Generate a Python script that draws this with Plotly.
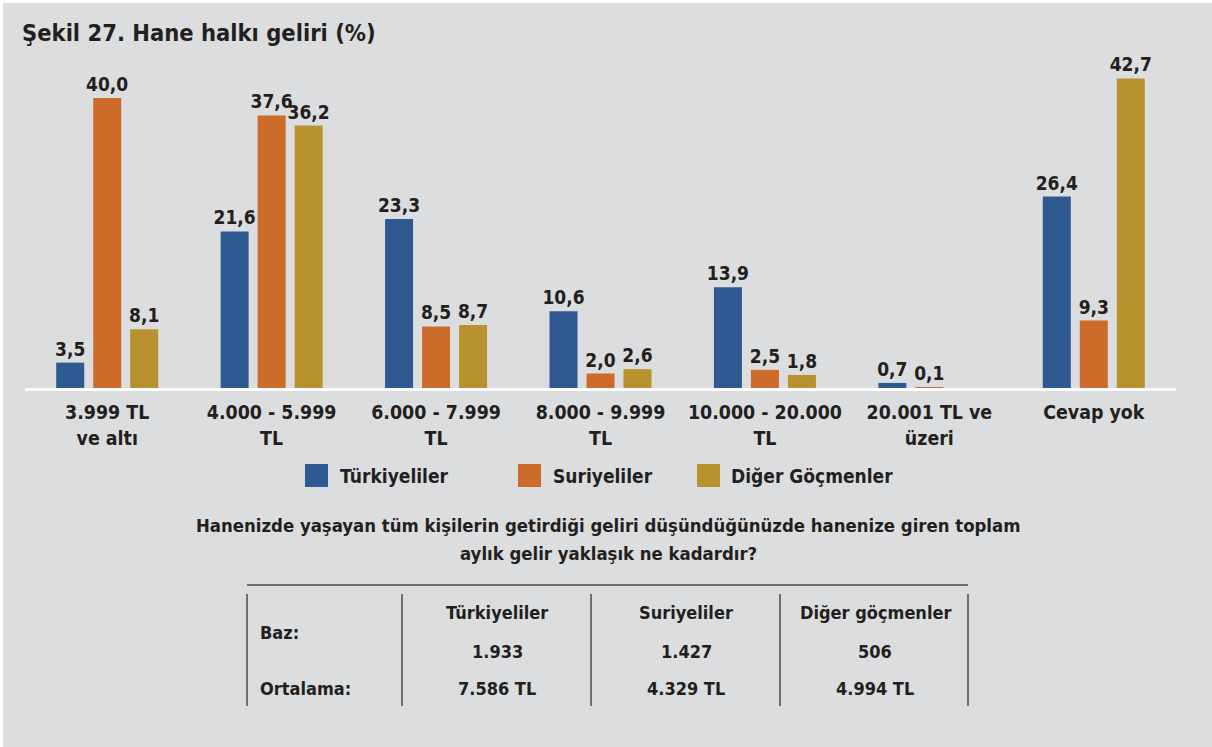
import plotly.graph_objects as go

# ---- data ----
categories = ["3.999 TL<br>ve altı", "4.000 - 5.999<br>TL", "6.000 - 7.999<br>TL",
              "8.000 - 9.999<br>TL", "10.000 - 20.000<br>TL", "20.001 TL ve<br>üzeri",
              "Cevap yok"]
turkiyeliler = [3.5, 21.6, 23.3, 10.6, 13.9, 0.7, 26.4]
suriyeliler = [40.0, 37.6, 8.5, 2.0, 2.5, 0.1, 9.3]
diger = [8.1, 36.2, 8.7, 2.6, 1.8, None, 42.7]
series_names = ["Türkiyeliler", "Suriyeliler", "Diğer Göçmenler"]
series_values = [turkiyeliler, suriyeliler, diger]

title_text = "Şekil 27. Hane halkı geliri (%)"
question_lines = ["Hanenizde yaşayan tüm kişilerin getirdiği geliri düşündüğünüzde hanenize giren toplam",
                  "aylık gelir yaklaşık ne kadardır?"]
table_header = ["Türkiyeliler", "Suriyeliler", "Diğer göçmenler"]
table_row_labels = ["Baz:", "Ortalama:"]
baz = ["1.933", "1.427", "506"]
ortalama = ["7.586 TL", "4.329 TL", "4.994 TL"]

# ---- style ----
colors = ["#2e5a91", "#cd6b2b", "#b8922f"]
BG = "#dcdddf"
TXT = "#231f20"
FONT = "DejaVu Sans Condensed, sans-serif"

W, H = 1212, 747
L, R, T, B = 25, 36, 60, 359
PW, PH = W - L - R, H - T - B
BASE_Y = H - B


def px(x):
    return (x - L) / PW


def py(y):
    return (BASE_Y - y) / PH


fig = go.Figure()
for name, vals, col in zip(series_names, series_values, colors):
    fig.add_trace(go.Bar(
        x=categories, y=vals, name=name,
        marker=dict(color=col, line=dict(width=0)),
        texttemplate="%{y:.1f}", textposition="outside",
        textfont=dict(size=19, color=TXT, family=FONT, weight="bold"),
        constraintext="none", cliponaxis=False, showlegend=False,
    ))

shapes = []
annotations = []

# white edge strips (page border)
shapes.append(dict(type="rect", xref="paper", yref="paper", x0=px(0), x1=px(3), y0=py(H), y1=py(0),
                   fillcolor="white", line=dict(width=0), layer="below"))
shapes.append(dict(type="rect", xref="paper", yref="paper", x0=px(0), x1=px(W), y0=py(3), y1=py(0),
                   fillcolor="white", line=dict(width=0), layer="below"))

# custom legend
leg_sq_x = [305, 518, 697]
leg_tx_x = [338, 551, 729]
for sx, tx, name, col in zip(leg_sq_x, leg_tx_x, series_names, colors):
    shapes.append(dict(type="rect", xref="paper", yref="paper",
                       x0=px(sx), x1=px(sx + 23), y0=py(487), y1=py(464),
                       fillcolor=col, line=dict(width=0)))
    annotations.append(dict(xref="paper", yref="paper", x=px(tx), y=py(476),
                            xanchor="left", yanchor="middle", showarrow=False,
                            text=name, font=dict(size=19, color=TXT)))

# question text
for yy, line in zip([525, 553], question_lines):
    annotations.append(dict(xref="paper", yref="paper", x=px(608), y=py(yy),
                            xanchor="center", yanchor="middle", showarrow=False,
                            text=line, font=dict(size=18.4, color=TXT)))

# table lines
LINE = "#4a4a4a"
shapes.append(dict(type="line", xref="paper", yref="paper", x0=px(247), x1=px(968),
                   y0=py(585), y1=py(585), line=dict(color=LINE, width=1.5)))
for vx in [247, 402, 591, 780, 968]:
    shapes.append(dict(type="line", xref="paper", yref="paper", x0=px(vx), x1=px(vx),
                       y0=py(594), y1=py(706), line=dict(color=LINE, width=1.5)))

# table text
annotations.append(dict(xref="paper", yref="paper", x=px(258), y=py(632), xanchor="left",
                        yanchor="middle", showarrow=False, text=table_row_labels[0],
                        font=dict(size=18, color=TXT)))
annotations.append(dict(xref="paper", yref="paper", x=px(258), y=py(688), xanchor="left",
                        yanchor="middle", showarrow=False, text=table_row_labels[1],
                        font=dict(size=18, color=TXT)))
col_cx = [497, 686, 875]
for cx, h, b, o in zip(col_cx, table_header, baz, ortalama):
    for yy, t in zip([612, 651, 688], [h, b, o]):
        annotations.append(dict(xref="paper", yref="paper", x=px(cx), y=py(yy),
                                xanchor="center", yanchor="middle", showarrow=False,
                                text=t, font=dict(size=18, color=TXT)))

fig.update_layout(
    width=W, height=H,
    margin=dict(l=L, r=R, t=T, b=B, pad=0),
    paper_bgcolor=BG, plot_bgcolor=BG,
    font=dict(family=FONT, color=TXT, size=18, weight="bold"),
    separators=",.",
    barmode="group", bargap=0.325, bargroupgap=0.243,
    title=dict(text=title_text, x=22 / W, xanchor="left", xref="container",
               y=1 - 33 / H, yanchor="middle", yref="container",
               font=dict(size=23.5, color=TXT, family=FONT, weight="bold")),
    xaxis=dict(showline=True, linecolor="white", linewidth=3, showgrid=False,
               ticks="", tickfont=dict(size=19.4, color=TXT), range=[-0.5, 6.5],
               fixedrange=True, ticklabelstandoff=5),
    yaxis=dict(visible=False, range=[0, PH / 7.25], showgrid=False, zeroline=False,
               fixedrange=True),
    shapes=shapes, annotations=annotations,
)

fig.write_html("out.html", config={"displayModeBar": False},
               post_script="document.body.style.margin='0';document.body.style.overflow='hidden';")
